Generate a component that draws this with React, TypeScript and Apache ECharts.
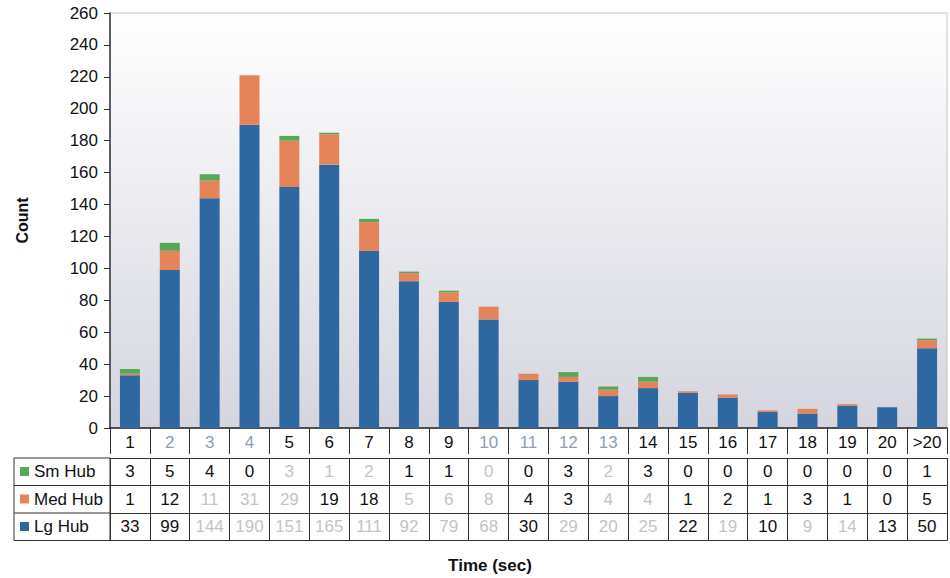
import React, { useEffect, useRef } from "react";
import * as echarts from "echarts";

const categories = ["1", "2", "3", "4", "5", "6", "7", "8", "9", "10", "11", "12", "13", "14", "15", "16", "17", "18", "19", "20", ">20"];
const lgHub = [33, 99, 144, 190, 151, 165, 111, 92, 79, 68, 30, 29, 20, 25, 22, 19, 10, 9, 14, 13, 50];
const medHub = [1, 12, 11, 31, 29, 19, 18, 5, 6, 8, 4, 3, 4, 4, 1, 2, 1, 3, 1, 0, 5];
const smHub = [3, 5, 4, 0, 3, 1, 2, 1, 1, 0, 0, 3, 2, 3, 0, 0, 0, 0, 0, 0, 1];
const yTicks = { min: 0, max: 260, interval: 20 };

// cells of the data table printed in a washed-out tone
const fadedCategory = [1, 2, 3, 9, 10, 11, 12];
const fadedSm = [4, 5, 6, 9, 12];
const fadedMed = [2, 3, 4, 7, 8, 9, 12, 13];
const fadedLg = [2, 3, 4, 5, 6, 7, 8, 9, 11, 12, 13, 15, 17, 18];

const COLORS = { lg: "#2f67a0", med: "#e5845b", sm: "#5aa659" };
const FONT = "'Liberation Sans', Arial, sans-serif";
const FS = 17;

const GRID = { left: 110, right: 3, top: 13, bottom: 150 };
const ROW_H = 27.5;

function tableAxis(values: (string | number)[], faded: number[], offset: number, fadeColor: string) {
  return {
    type: "category",
    gridIndex: 0,
    position: "bottom",
    offset,
    data: values.map(String),
    axisLine: { show: true, lineStyle: { color: "#333", width: 1 } },
    axisTick: { show: true, length: ROW_H, lineStyle: { color: "#333", width: 1 } },
    axisLabel: {
      interval: 0,
      margin: 5,
      fontFamily: FONT,
      fontSize: FS,
      color: "#111",
      formatter: (v: string, i: number) => (faded.includes(i) ? `{f|${v}}` : v),
      rich: { f: { color: fadeColor, fontFamily: FONT, fontSize: FS } },
    },
  };
}

export default function App() {
  const ref = useRef<HTMLDivElement>(null);

  useEffect(() => {
    if (!ref.current) return;
    const chart = echarts.init(ref.current, null, { renderer: "svg" });
    const bar = (name: string, data: number[], color: string) => ({
      name,
      type: "bar",
      stack: "hub",
      data,
      barWidth: 20,
      itemStyle: { color },
      xAxisIndex: 0,
    });
    const axisBottomY = 578 - GRID.bottom;
    const rowTop = axisBottomY + 30;
    chart.setOption({
      animation: false,
      backgroundColor: "#ffffff",
      grid: {
        ...GRID,
        show: true,
        borderColor: "#c4c4c8",
        borderWidth: 1,
        backgroundColor: new echarts.graphic.LinearGradient(0, 0, 0, 1, [
          { offset: 0, color: "#ffffff" },
          { offset: 1, color: "#d4d5df" },
        ]),
      },
      legend: {
        orient: "vertical",
        left: 15,
        top: rowTop,
        itemWidth: 9,
        itemHeight: 9,
        itemGap: 10.5,
        icon: "rect",
        data: ["Sm Hub", "Med Hub", "Lg Hub"],
        textStyle: { fontFamily: FONT, fontSize: FS, color: "#111", padding: [0, 0, 0, 0], lineHeight: 17 },
        selectedMode: false,
      },
      xAxis: [
        {
          type: "category",
          data: categories,
          axisLine: { show: true, lineStyle: { color: "#222", width: 1.5 } },
          axisTick: { show: true, length: 26, lineStyle: { color: "#333", width: 1 } },
          axisLabel: {
            interval: 0,
            margin: 6,
            fontFamily: FONT,
            fontSize: FS,
            color: "#111",
            formatter: (v: string, i: number) => (fadedCategory.includes(i) ? `{f|${v}}` : v),
            rich: { f: { color: "#8e9db5", fontFamily: FONT, fontSize: FS } },
          },
        },
        tableAxis(smHub, fadedSm, 30, "#c4c4c4"),
        tableAxis(medHub, fadedMed, 30 + ROW_H, "#c4c4c4"),
        tableAxis(lgHub, fadedLg, 30 + ROW_H * 2, "#c4c4c4"),
        {
          type: "category",
          position: "bottom",
          offset: 30 + ROW_H * 3,
          data: categories,
          axisLine: { show: true, lineStyle: { color: "#333", width: 1 } },
          axisTick: { show: false },
          axisLabel: { show: false },
        },
      ],
      yAxis: {
        type: "value",
        ...yTicks,
        name: "Count",
        nameLocation: "middle",
        nameGap: 80,
        nameTextStyle: { fontFamily: FONT, fontSize: 16, fontWeight: "bold", color: "#111" },
        axisLine: { show: true, lineStyle: { color: "#333", width: 1.5 } },
        axisTick: { show: true, length: 6, lineStyle: { color: "#333" } },
        splitLine: { show: false },
        axisLabel: { fontFamily: FONT, fontSize: FS, color: "#111", margin: 12 },
      },
      graphic: [
        {
          type: "rect",
          shape: { x: 14, y: rowTop, width: GRID.left - 14, height: ROW_H * 3 },
          style: { fill: "none", stroke: "#333", lineWidth: 1 },
        },
        {
          type: "line",
          shape: { x1: 14, y1: rowTop + ROW_H, x2: GRID.left, y2: rowTop + ROW_H },
          style: { stroke: "#333", lineWidth: 1 },
        },
        {
          type: "line",
          shape: { x1: 14, y1: rowTop + ROW_H * 2, x2: GRID.left, y2: rowTop + ROW_H * 2 },
          style: { stroke: "#333", lineWidth: 1 },
        },
        {
          type: "text",
          x: 490,
          y: 565,
          style: {
            text: "Time (sec)",
            fontFamily: FONT,
            fontSize: 17,
            fontWeight: "bold",
            fill: "#111",
            textAlign: "center",
            textVerticalAlign: "middle",
          },
        },
      ],
      series: [bar("Lg Hub", lgHub, COLORS.lg), bar("Med Hub", medHub, COLORS.med), bar("Sm Hub", smHub, COLORS.sm)],
    });
    return () => chart.dispose();
  }, []);

  return <div ref={ref} style={{ width: 950, height: 578, position: "absolute", left: 0, top: 0 }} />;
}
